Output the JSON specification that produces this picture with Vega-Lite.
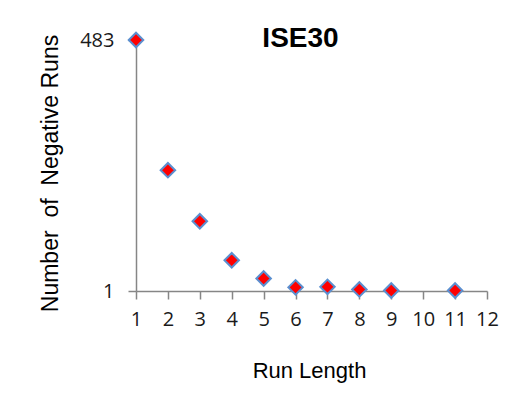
{
  "$schema": "https://vega.github.io/schema/vega-lite/v6.json",
  "autosize": "none",
  "width": 351,
  "height": 251,
  "padding": {"left": 136, "top": 40, "right": 31, "bottom": 103},
  "background": "white",
  "title": {
    "text": "ISE30",
    "font": "Liberation Sans",
    "fontSize": 28,
    "fontWeight": "bold",
    "color": "#000000",
    "anchor": "middle",
    "frame": "group",
    "baseline": "middle",
    "dx": -11,
    "offset": -38
  },
  "config": {
    "view": {"stroke": null},
    "axis": {
      "grid": false,
      "domainColor": "#868686",
      "domainWidth": 1.5,
      "tickColor": "#868686",
      "tickWidth": 1.5,
      "tickSize": 8,
      "labelFont": "Open Sans",
      "labelFontSize": 20,
      "labelColor": "#1a1a1a",
      "titleFont": "Liberation Sans",
      "titleFontSize": 22,
      "titleFontWeight": "normal",
      "titleColor": "#000000"
    }
  },
  "data": {
    "values": [
      {"run": 1, "count": 483},
      {"run": 2, "count": 233},
      {"run": 3, "count": 135},
      {"run": 4, "count": 60},
      {"run": 5, "count": 25},
      {"run": 6, "count": 8},
      {"run": 7, "count": 9},
      {"run": 8, "count": 4},
      {"run": 9, "count": 2},
      {"run": 11, "count": 2}
    ]
  },
  "mark": {
    "type": "point",
    "shape": "diamond",
    "filled": true,
    "fill": "#ff0000",
    "stroke": "#5b8fd0",
    "strokeWidth": 2,
    "opacity": 1,
    "size": 210
  },
  "encoding": {
    "x": {
      "field": "run",
      "type": "quantitative",
      "scale": {"domain": [1, 12], "nice": false, "zero": false},
      "axis": {
        "title": "Run Length",
        "values": [1, 2, 3, 4, 5, 6, 7, 8, 9, 10, 11, 12],
        "labelPadding": 10,
        "labelFlush": false,
        "labelOverlap": false,
        "titleX": 173,
        "titleY": 79,
        "titleBaseline": "middle",
        "titleAnchor": null
      }
    },
    "y": {
      "field": "count",
      "type": "quantitative",
      "scale": {"domain": [1, 483], "nice": false, "zero": false},
      "axis": {
        "title": "Number\u00a0\u00a0of\u00a0\u00a0Negative Runs",
        "values": [1, 483],
        "labelPadding": 14,
        "labelFlush": false,
        "labelOverlap": false,
        "titleFontSize": 23,
        "titleX": -86,
        "titleY": 133,
        "titleAngle": -90,
        "titleBaseline": "middle",
        "titleAlign": "center"
      }
    }
  }
}
